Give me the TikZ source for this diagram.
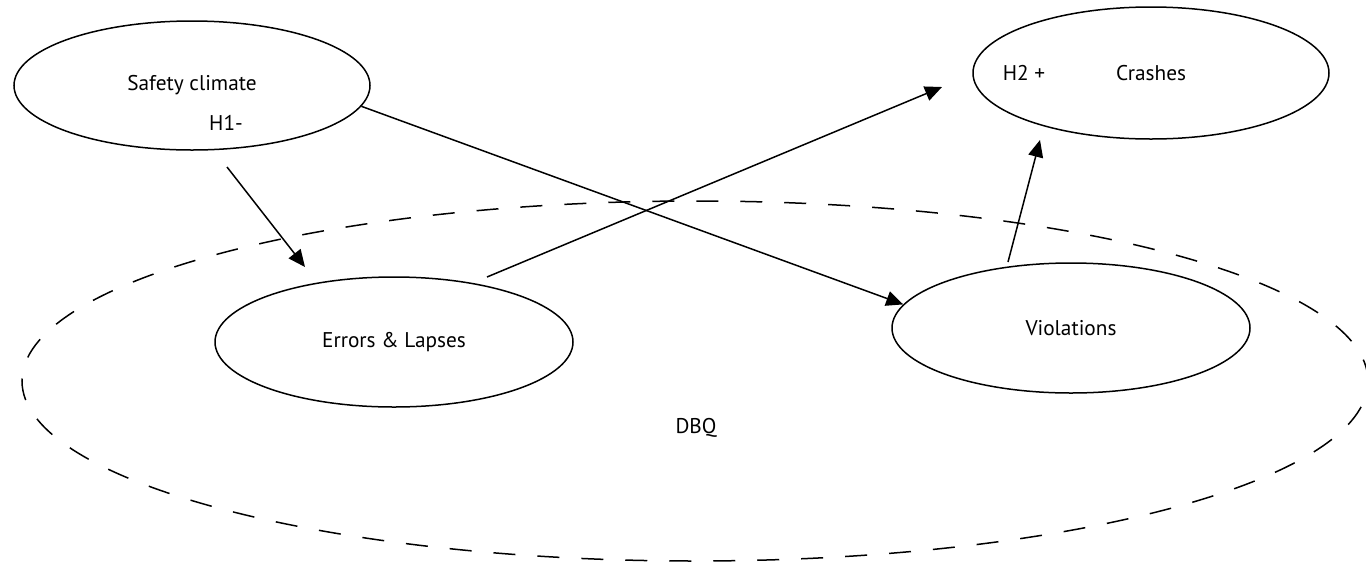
\documentclass[tikz,border=0pt]{standalone}
\usepackage{fontspec}
\setmainfont{PT Sans}
\usetikzlibrary{shapes.geometric,arrows.meta}
\begin{document}
\begin{tikzpicture}[x=1pt,y=-1pt,
  oval/.style={draw, ellipse, line width=1.5pt, inner sep=0pt, font=\fontsize{21.3}{25}\selectfont},
  lbl/.style={inner sep=0pt, font=\fontsize{21.3}{25}\selectfont},
  link/.style={line width=1.5pt, -{Triangle[length=17pt,width=15pt]}},
  dbq/.style={draw, ellipse, line width=1.5pt, dash pattern=on 22pt off 22pt, inner sep=0pt}]
\useasboundingbox (0,0) rectangle (1366,566);
% DBQ dashed region
\node[dbq, minimum width=1346pt, minimum height=360pt] (dbqo) at (695,381) {};
\node[lbl] (dbqt) at (696,428) {DBQ};
% constructs
\node[oval, minimum width=356pt, minimum height=129pt] (sc) at (192,85.5) {Safety climate};
\node[oval, minimum width=356pt, minimum height=132pt] (cr) at (1151,73) {Crashes};
\node[oval, minimum width=358pt, minimum height=130pt] (el) at (394,342) {Errors \& Lapses};
\node[oval, minimum width=358pt, minimum height=130pt] (vi) at (1071,328) {Violations};
% hypothesis labels
\node[lbl] (h1) at (226,123) {H1-};
\node[lbl] (h2) at (1024,73) {H2 +};
% free connector ends
\coordinate (a1s) at (227,167);
\coordinate (a1e) at (305,267);
\coordinate (a3s) at (487,277);
\coordinate (a3e) at (942,87);
\coordinate (a4s) at (1008,262);
\coordinate (a4e) at (1040,140);
% connectors
\draw[link] (a1s) -- (a1e);
\draw[link] (sc.-7.6) -- (vi.172);
\draw[link] (a3s) -- (a3e);
\draw[link] (a4s) -- (a4e);
\end{tikzpicture}
\end{document}
